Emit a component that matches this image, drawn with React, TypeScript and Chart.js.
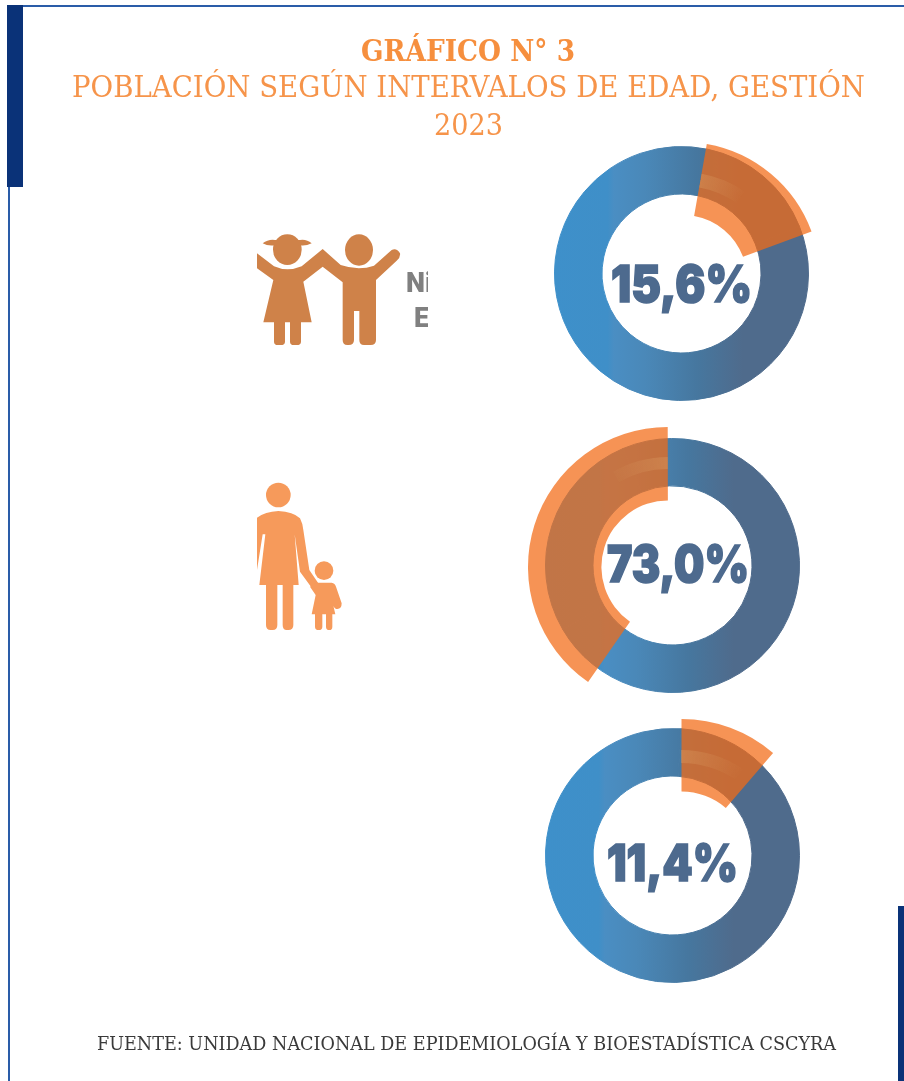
import React, { useEffect, useLayoutEffect, useRef } from "react";
import { Chart, registerables } from "chart.js";

Chart.register(...registerables);

// Data
const groupLabels = ["Niños", "Adultos", "Mayores"];
const populationShare = [15.6, 73.0, 11.4];
// Decorative orange sector size, as % of the circle, as drawn (does not follow the label)
const sectorShare = [16.6, 40.3, 11.3];
const valueLabels = ["15,6%", "73,0%", "11,4%"];

const titleBold = "GRÁFICO N° 3";
const titleLine = "POBLACIÓN SEGÚN INTERVALOS DE EDAD, GESTIÓN";
const titleYear = "2023";
const sourceLine = "FUENTE: UNIDAD NACIONAL DE EPIDEMIOLOGÍA Y BIOESTADÍSTICA CSCYRA";

const layouts = [
  { ring: [681, 273.5], sector: [683, 279], secR: [137, 64], glowR: [107, 93], sectorStart: 10, ringRot: 12, glowStart: 10, glowSpan: 7, text: [611, 752, 303] },
  { ring: [672.5, 565.5], sector: [668.3, 566.6], secR: [140, 66.6], glowR: [110, 98], sectorStart: 214.8, ringRot: -23, glowStart: 330, glowSpan: 8.3, text: [607, 749, 583] },
  { ring: [672, 855.8], sector: [681, 859.5], secR: [140.5, 68], glowR: [110, 97], sectorStart: 0, ringRot: 4, glowStart: 0, glowSpan: 9.5, text: [607, 738, 882] },
];

const ORANGE_SHEET = "rgba(242,107,22,0.73)";

function ringGradient(ctx: CanvasRenderingContext2D, w: number) {
  const g = ctx.createLinearGradient(0, 0, w, 0);
  g.addColorStop(0, "#3E90CA");
  g.addColorStop(0.21, "#3F8FC8");
  g.addColorStop(0.235, "#4A8EC3");
  g.addColorStop(0.36, "#4A88B8");
  g.addColorStop(0.56, "#46779F");
  g.addColorStop(0.74, "#4F6B8C");
  g.addColorStop(1, "#4F6B8C");
  return g;
}

function Arc(props: {
  cx: number; cy: number; outer: number; inner: number; values: number[];
  colors: any[]; rotation: number; label: string; gradient?: boolean; fade?: boolean;
}) {
  const ref = useRef<HTMLCanvasElement>(null);
  const { cx, cy, outer, inner, values, colors, rotation, label, gradient, fade } = props;
  const size = outer * 2;
  useEffect(() => {
    const canvas = ref.current!;
    const ctx = canvas.getContext("2d")!;
    let bg: any = colors;
    let border: any = undefined;
    if (gradient) {
      bg = values.map(() => ringGradient(ctx, size));
      border = values.map(() => ringGradient(ctx, size));
    }
    if (fade) {
      const g = (ctx as any).createConicGradient(((rotation - 90) * Math.PI) / 180, size / 2, size / 2);
      const f = values[0] / 100;
      if (colors[2] === "rev") {
        g.addColorStop(0, "rgba(226,170,110,0.04)");
        g.addColorStop(f, "rgba(226,170,110,0.3)");
      } else {
        g.addColorStop(0, "rgba(226,170,110,0.3)");
        g.addColorStop(f, "rgba(226,170,110,0.02)");
      }
      g.addColorStop(Math.min(1, f + 0.001), "rgba(226,170,110,0)");
      g.addColorStop(1, "rgba(226,170,110,0)");
      bg = [g, "rgba(0,0,0,0)"];
    }
    const chart = new Chart(canvas, {
      type: "doughnut",
      data: {
        labels: values.map((_, i) => (i === 0 ? label : "Resto")),
        datasets: [{
          data: values, backgroundColor: bg, borderWidth: gradient ? 1 : 0,
          borderColor: border, hoverOffset: 0,
        }],
      },
      options: {
        responsive: false,
        animation: false,
        rotation,
        cutout: inner,
        layout: { padding: 0 },
        plugins: { legend: { display: false }, tooltip: { enabled: false }, title: { display: false } },
      },
    });
    return () => chart.destroy();
  }, []);
  return (
    <canvas
      ref={ref}
      width={size}
      height={size}
      style={{ position: "absolute", left: cx - outer, top: cy - outer, width: size, height: size, pointerEvents: "none" }}
    />
  );
}

function Fit(props: {
  x0: number; x1: number; top: number; font: string; size: number; weight?: number | string;
  color: string; stroke?: number; children: string;
}) {
  const ref = useRef<HTMLSpanElement>(null);
  const { x0, x1, top, font, size, weight, color, stroke, children } = props;
  useLayoutEffect(() => {
    const el = ref.current!;
    el.style.transform = "none";
    const w = el.getBoundingClientRect().width;
    el.style.transform = `scaleX(${(x1 - x0) / w})`;
  }, []);
  return (
    <span
      ref={ref}
      style={{
        position: "absolute", left: x0, top, whiteSpace: "nowrap", fontFamily: font, fontSize: size,
        fontWeight: weight ?? 400, color, lineHeight: 1, transformOrigin: "0 0",
        WebkitTextStroke: stroke ? `${stroke}px ${color}` : undefined,
      }}
    >
      {children}
    </span>
  );
}

function Kids() {
  return (
    <svg viewBox="0 0 570 390" width={190} height={130}
      style={{ position: "absolute", left: 250, top: 225, filter: "blur(0.7px)" }}>
      <g fill="#CF8249">
        <path d="M21 85 L72 124 Q112 142 155 124 L218 72 L272 120 Q325 138 372 122 L425 75 Q440 68 450 85 Q452 97 440 107 L378 165 L378 345 Q378 360 362 360 L342 360 Q328 360 328 345 L328 258 L312 258 L312 345 Q312 360 296 360 L292 360 Q278 360 278 345 L278 172 L218 125 L160 170 L185 292 L153 292 L153 350 Q153 360 140 360 L132 360 Q120 360 120 350 L120 292 L105 292 L105 350 Q105 360 92 360 L84 360 Q72 360 72 350 L72 292 L40 292 L70 165 L21 130 Z" />
        <ellipse cx={112} cy={74} rx={43} ry={46} />
        <path d="M38 55 Q55 42 75 45 L150 45 Q170 42 185 55 Q165 65 145 60 L80 60 Q55 65 38 55Z" />
        <ellipse cx={327} cy={75} rx={42} ry={47} />
      </g>
    </svg>
  );
}

function Walker() {
  return (
    <svg viewBox="0 0 300 495" width={100} height={165}
      style={{ position: "absolute", left: 250, top: 475, filter: "blur(0.7px)" }}>
      <g fill="#F69A5B">
        <circle cx={85} cy={60} r={37} />
        <path d="M21 128 Q45 110 85 108 Q130 110 150 130 Q158 145 160 165 L178 285 L205 325 L190 345 L150 290 L134 178 L146 330 L130 330 L130 450 Q130 465 115 465 L110 465 Q98 465 98 450 L98 330 L82 330 L82 450 Q82 465 68 465 L62 465 Q48 465 48 450 L48 330 L28 330 L46 178 L38 178 L21 285 Z" />
        <circle cx={222} cy={287} r={28} />
        <path d="M198 323 L245 323 Q255 325 258 335 L275 385 Q275 402 262 402 Q254 402 250 392 L245 370 L256 418 L247 418 L247 455 Q247 465 238 465 Q228 465 228 455 L228 418 L217 418 L217 455 Q217 465 206 465 Q195 465 195 455 L195 418 L185 418 L197 360 L180 335 Z" />
      </g>
    </svg>
  );
}

export default function App() {
  const serif = '"DejaVu Serif", serif';
  const heavy = 'Inter, "DejaVu Sans", sans-serif';
  const small = { position: "absolute", font: "900 27px Roboto, sans-serif", color: "#808080", filter: "blur(0.6px)", lineHeight: 1 } as const;
  return (
    <div style={{ position: "absolute", left: 0, top: 0, width: 904, height: 1081, overflow: "hidden", background: "#fff" }}>
      {/* Frame */}
      <div style={{ position: "absolute", left: 23, top: 5, width: 881, height: 2, background: "#2A5CA8" }} />
      <div style={{ position: "absolute", left: 8, top: 187, width: 2, height: 894, background: "#2A5CA8" }} />
      <div style={{ position: "absolute", left: 7, top: 5, width: 16, height: 182, background: "#0A3278" }} />
      <div style={{ position: "absolute", left: 898, top: 906, width: 6, height: 175, background: "#0A3278" }} />

      {/* Titles */}
      <Fit x0={361} x1={575} top={36} font={serif} size={30} weight={700} color="#F68F3E">{titleBold}</Fit>
      <Fit x0={72} x1={865} top={72} font={serif} size={30} color="#F6944A">{titleLine}</Fit>
      <Fit x0={434} x1={503} top={110} font={serif} size={30} color="#F6944A">{titleYear}</Fit>

      {/* Icons and clipped labels */}
      <Kids />
      <Walker />
      <div style={{ position: "absolute", left: 405, top: 268, width: 23, height: 62, overflow: "hidden" }}>
        <span style={{ ...small, left: 1, top: 2 }}>Ni</span>
        <span style={{ ...small, left: 9, top: 37 }}>E</span>
      </div>

      {/* Donuts */}
      {populationShare.map((v, i) => {
        const l = layouts[i];
        const s = sectorShare[i];
        const glowRev = i === 1;
        return (
          <React.Fragment key={i}>
            <Arc cx={l.ring[0]} cy={l.ring[1]} outer={127.5} inner={79.5} values={[v, 100 - v]} colors={[]} rotation={l.ringRot} label={groupLabels[i]} gradient />
            <Arc cx={l.sector[0]} cy={l.sector[1]} outer={l.secR[0]} inner={l.secR[1]} values={[s, 100 - s]} colors={[ORANGE_SHEET, "rgba(0,0,0,0)"]} rotation={l.sectorStart} label={groupLabels[i]} />
            <Arc cx={l.sector[0]} cy={l.sector[1]} outer={l.glowR[0]} inner={l.glowR[1]} values={[l.glowSpan, 100 - l.glowSpan]} colors={[0, 0, glowRev ? "rev" : "fwd"]} rotation={l.glowStart} label={groupLabels[i]} fade />
            <Fit x0={l.text[0]} x1={l.text[1]} top={l.text[2] - 45} font={heavy} size={51} weight={900} color="#4D6A8E" stroke={1.6}>{valueLabels[i]}</Fit>
          </React.Fragment>
        );
      })}

      {/* Source */}
      <Fit x0={97} x1={836} top={1035} font={serif} size={18} color="#3A3A3A">{sourceLine}</Fit>
    </div>
  );
}
